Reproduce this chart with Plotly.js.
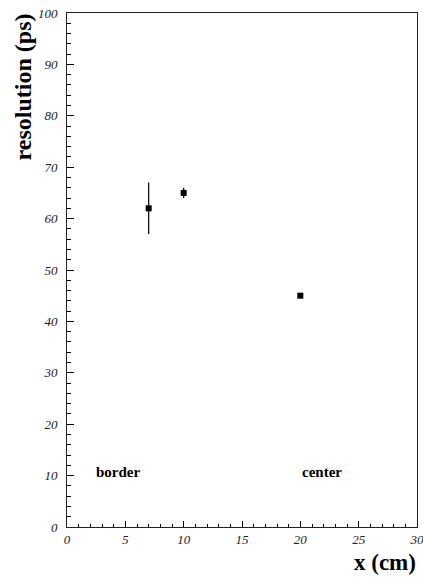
<!DOCTYPE html>
<html>
<head>
<meta charset="utf-8">
<script src="https://cdn.plot.ly/plotly-3.0.1.min.js"></script>
<style>
  html, body { margin: 0; padding: 0; background: #fff; }
  #chart { width: 423px; height: 579px; }
</style>
</head>
<body>
<div id="chart"></div>
<script>
// Time resolution measured at several positions along the bar
const positions = [7, 10, 20];          // x (cm)
const resolution = [62, 65, 45];        // ps
const resolutionErr = [5, 1, 0];        // ps

const xTickVals = [0, 5, 10, 15, 20, 25, 30];
const yTickVals = [0, 10, 20, 30, 40, 50, 60, 70, 80, 90, 100];

const regionLabels = ['border', 'center'];
const regionX = [2.3, 20];
const regionY = [10.7, 10.7];

const serif = '"Liberation Serif", "Times New Roman", Times, serif';
const italic = v => '<i>' + v + '</i>';

const trace = {
  x: positions,
  y: resolution,
  type: 'scatter',
  mode: 'markers',
  marker: { symbol: 'square', size: 6, color: '#000' },
  error_y: { type: 'data', array: resolutionErr, visible: true, width: 0, thickness: 1.2, color: '#000' },
  hoverinfo: 'skip'
};

const annotations = regionLabels.map((t, i) => ({
  x: regionX[i], y: regionY[i], xref: 'x', yref: 'y',
  text: '<b>' + t + '</b>', showarrow: false,
  xanchor: 'left', yanchor: 'middle',
  font: { family: serif, size: 15, color: '#000' }
}));

// axis titles
annotations.push({
  x: 1.002, y: -0.07, xref: 'paper', yref: 'paper',
  text: '<b>x (cm)</b>', showarrow: false,
  xanchor: 'right', yanchor: 'middle',
  font: { family: serif, size: 23, color: '#000' }
});
annotations.push({
  x: -0.126, y: 0.857, xref: 'paper', yref: 'paper',
  text: '<b>resolution (ps)</b>', showarrow: false, textangle: -90,
  xanchor: 'center', yanchor: 'middle',
  font: { family: serif, size: 24, color: '#000' }
});

const axisCommon = {
  showgrid: false, zeroline: false,
  showline: true, mirror: true, linecolor: '#222', linewidth: 1,
  ticks: 'inside', tickcolor: '#000', tickwidth: 1,
  tickfont: { family: serif, size: 13, style: 'italic', color: '#222' },
  tickmode: 'array',
  ticklabeloverflow: 'allow',
  fixedrange: true
};

const layout = {
  width: 423, height: 579,
  font: { family: serif, color: '#000' },
  margin: { l: 67, r: 6, t: 13, b: 52 },
  paper_bgcolor: '#fff', plot_bgcolor: '#fff',
  showlegend: false,
  xaxis: Object.assign({}, axisCommon, {
    range: [0, 30], tickvals: xTickVals, ticktext: xTickVals.map(italic), ticklen: 6,
    minor: { dtick: 1, ticks: 'inside', ticklen: 3, tickcolor: '#000', showgrid: false }
  }),
  yaxis: Object.assign({}, axisCommon, {
    range: [0, 100], tickvals: yTickVals, ticktext: yTickVals.map(italic), ticklen: 7,
    ticklabelstandoff: 6,
    minor: { dtick: 2, ticks: 'inside', ticklen: 4, tickcolor: '#000', showgrid: false }
  }),
  annotations: annotations
};

Plotly.newPlot('chart', [trace], layout, { displayModeBar: false, staticPlot: true });
</script>
</body>
</html>
